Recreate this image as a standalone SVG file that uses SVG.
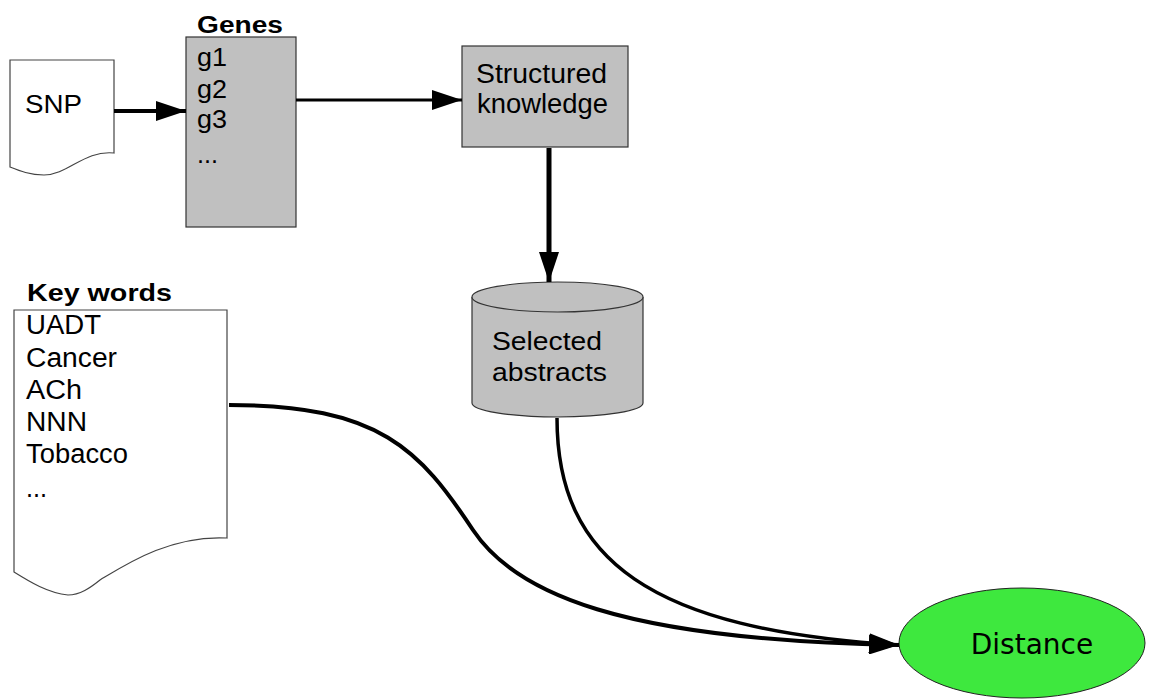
<svg xmlns="http://www.w3.org/2000/svg" width="1150" height="699" viewBox="0 0 1150 699">
<style>
.t{font-family:"Liberation Sans",Arial,sans-serif;fill:#000}
.b{font-weight:bold}
.box{fill:#c0c0c0;stroke:#333;stroke-width:1.2}
.doc{fill:#fff;stroke:#444;stroke-width:1.2}
.c{fill:none;stroke:#000}
</style>
<defs>
<marker id="ah" markerUnits="userSpaceOnUse" markerWidth="30" markerHeight="20" refX="30" refY="10" orient="auto">
<path d="M0,0 L30,10 L0,20 Z" fill="#000"/>
</marker>
</defs>
<rect width="1150" height="699" fill="#fff"/>

<g id="snp">
<path class="doc" d="M10,60 H114 V153 C 84,150 68,175 44,175 C 30,175 20,171 10,167 Z"/>
<text class="t" x="25" y="113" font-size="25" textLength="57" lengthAdjust="spacingAndGlyphs">SNP</text>
</g>

<g id="genes">
<text class="t b" x="197" y="33" font-size="23" textLength="86" lengthAdjust="spacingAndGlyphs">Genes</text>
<rect class="box" x="186" y="37" width="110" height="190"/>
<text class="t" x="197" y="66" font-size="25" textLength="30" lengthAdjust="spacingAndGlyphs">g1</text>
<text class="t" x="197" y="98" font-size="25" textLength="30" lengthAdjust="spacingAndGlyphs">g2</text>
<text class="t" x="197" y="128" font-size="25" textLength="30" lengthAdjust="spacingAndGlyphs">g3</text>
<text class="t" x="197" y="163" font-size="25" textLength="21" lengthAdjust="spacingAndGlyphs">...</text>
</g>

<g id="structured">
<rect class="box" x="462" y="46" width="166" height="101"/>
<text class="t" x="476" y="83" font-size="27" textLength="131" lengthAdjust="spacingAndGlyphs">Structured</text>
<text class="t" x="477" y="113" font-size="27" textLength="131" lengthAdjust="spacingAndGlyphs">knowledge</text>
</g>

<g id="abstracts">
<path class="box" d="M472,297 V403 A85.5,14 0 0 0 643,403 V297"/>
<ellipse class="box" cx="557.5" cy="297" rx="85.5" ry="15"/>
<text class="t" x="492" y="350" font-size="26" textLength="110" lengthAdjust="spacingAndGlyphs">Selected</text>
<text class="t" x="492" y="381" font-size="26" textLength="115" lengthAdjust="spacingAndGlyphs">abstracts</text>
</g>

<g id="keywords">
<text class="t b" x="27" y="301" font-size="24" textLength="145" lengthAdjust="spacingAndGlyphs">Key words</text>
<path class="doc" d="M14,310 H227 V538 C 170,535 125,565 100,580 C 90,588 80,595 68,595 C 48,593 30,582 14,572 Z"/>
<text class="t" x="26" y="334" font-size="27" textLength="75" lengthAdjust="spacingAndGlyphs">UADT</text>
<text class="t" x="26" y="367" font-size="27" textLength="91" lengthAdjust="spacingAndGlyphs">Cancer</text>
<text class="t" x="26" y="399" font-size="27" textLength="56" lengthAdjust="spacingAndGlyphs">ACh</text>
<text class="t" x="26" y="431" font-size="27" textLength="61" lengthAdjust="spacingAndGlyphs">NNN</text>
<text class="t" x="26" y="463" font-size="27" textLength="102" lengthAdjust="spacingAndGlyphs">Tobacco</text>
<text class="t" x="26" y="497" font-size="27" textLength="21" lengthAdjust="spacingAndGlyphs">...</text>
</g>

<g id="distance">
<ellipse cx="1022" cy="643" rx="123" ry="55" fill="#3ee83e" stroke="#222" stroke-width="1"/>
<text x="1032" y="654" font-family="'DejaVu Sans',sans-serif" font-size="28" text-anchor="middle" fill="#000">Distance</text>
</g>

<g id="connectors">
<path class="c" stroke-width="4" d="M114,111 H186" marker-end="url(#ah)"/>
<path class="c" stroke-width="3" d="M296,100 H462" marker-end="url(#ah)"/>
<path class="c" stroke-width="5" d="M549,148 V282" marker-end="url(#ah)"/>
<path class="c" stroke-width="4" d="M229,405 C 380,405 420,450 473,530 C 515,593 620,640 899,645" marker-end="url(#ah)"/>
<path class="c" stroke-width="3.5" d="M557,418 C 557,560 650,630 899,645" marker-end="url(#ah)"/>
</g>
</svg>
